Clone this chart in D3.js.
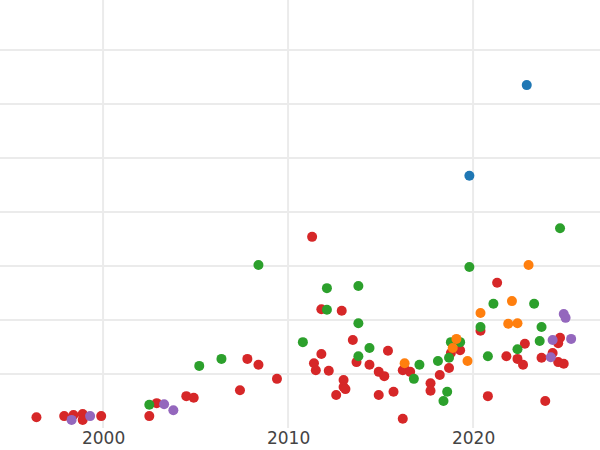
<!DOCTYPE html>
<html>
<head>
<meta charset="utf-8">
<script src="https://cdn.jsdelivr.net/npm/d3@7"></script>
<style>
  body { margin: 0; background: #fff; }
  svg { display: block; font-family: "DejaVu Sans", sans-serif; }
</style>
</head>
<body>
<svg id="chart"></svg>
<script>
// [year, value] per group
const redPts = [[1996.4,2.0],[1997.9,2.2],[1998.4,2.4],[1998.9,2.6],[1998.9,1.5],[1999.9,2.2],[2002.5,2.2],[2002.9,4.6],[2004.5,5.9],[2004.9,5.6],[2007.4,7.0],[2007.8,12.8],[2008.4,11.7],[2009.4,9.1],[2011.3,35.4],[2011.8,22.0],[2012.9,21.7],[2013.5,16.3],[2011.8,13.7],[2011.4,12.0],[2011.5,10.7],[2012.2,10.6],[2012.6,6.1],[2013.0,8.9],[2013.0,7.6],[2013.1,7.2],[2013.7,12.2],[2014.4,11.7],[2014.9,6.1],[2014.9,10.4],[2015.2,9.6],[2015.4,14.3],[2015.7,6.7],[2016.2,1.7],[2016.2,10.7],[2016.3,10.9],[2016.6,10.4],[2017.7,8.3],[2017.7,6.9],[2018.2,9.8],[2018.7,11.1],[2018.8,13.9],[2019.3,14.4],[2020.4,18.0],[2020.8,5.9],[2021.3,26.9],[2021.8,13.3],[2022.4,12.8],[2022.7,11.7],[2022.8,15.6],[2023.7,13.0],[2023.9,5.0],[2024.3,13.9],[2024.7,16.7],[2024.6,15.7],[2024.6,12.2],[2024.9,11.9]];
const greenPts = [[2002.5,4.3],[2005.2,11.5],[2006.4,12.8],[2008.4,30.2],[2010.8,15.9],[2012.1,25.9],[2012.1,21.9],[2013.8,26.3],[2013.8,19.4],[2013.8,13.3],[2014.4,14.8],[2016.8,9.1],[2017.1,11.7],[2018.1,12.4],[2018.4,5.0],[2018.6,6.7],[2018.7,13.0],[2018.8,15.9],[2019.3,15.9],[2019.8,29.8],[2020.4,18.7],[2020.8,13.3],[2021.1,23.0],[2022.4,14.6],[2023.3,23.0],[2023.6,16.1],[2023.7,18.7],[2024.7,37.0]];
const orangePts = [[2016.3,12.0],[2019.1,16.5],[2018.9,14.8],[2019.7,12.4],[2020.4,21.3],[2021.9,19.3],[2022.1,23.5],[2022.4,19.4],[2023.0,30.2]];
const purplePts = [[1998.3,1.5],[1999.3,2.2],[2003.3,4.4],[2003.8,3.3],[2024.3,16.3],[2024.2,13.1],[2024.9,21.1],[2025.0,20.4],[2025.3,16.5]];
const bluePts = [[2022.9,63.5],[2019.8,46.7]];
const xTicks = [2000, 2010, 2020];
const yTicks = [10, 20, 30, 40, 50, 60, 70];

const groups = [
  {pts: redPts, color: '#d62728'},
  {pts: greenPts, color: '#2ca02c'},
  {pts: purplePts, color: '#9467bd'},
  {pts: orangePts, color: '#ff7f0e'},
  {pts: bluePts, color: '#1f77b4'}
];

const width = 600, height = 450;
const svg = d3.select('#chart').attr('width', width).attr('height', height);

const x = d3.scaleLinear().domain([1994.43, 2026.86]).range([0, width]);
const y = d3.scaleLinear().domain([0, 79.26]).range([428, 0]);

// grid
svg.append('g').selectAll('line').data(yTicks).join('line')
  .attr('x1', 0).attr('x2', width)
  .attr('y1', d => y(d)).attr('y2', d => y(d))
  .attr('stroke', '#ebebeb').attr('stroke-width', 2);
svg.append('g').selectAll('line').data(xTicks).join('line')
  .attr('x1', d => x(d)).attr('x2', d => x(d))
  .attr('y1', 0).attr('y2', 428)
  .attr('stroke', '#ebebeb').attr('stroke-width', 2);

// x axis labels
const xAxis = d3.axisBottom(x).tickValues(xTicks).tickFormat(d3.format('d')).tickSize(0).tickPadding(4);
svg.append('g').attr('transform', 'translate(0,428)').call(xAxis)
  .call(g => g.select('.domain').remove())
  .call(g => g.selectAll('text').attr('font-size', 17).attr('fill', '#444').attr('font-family', '"DejaVu Sans", sans-serif'));

// points
groups.forEach(gr => {
  svg.append('g').selectAll('circle').data(gr.pts).join('circle')
    .attr('cx', d => x(d[0])).attr('cy', d => y(d[1]))
    .attr('r', 5).attr('fill', gr.color);
});
</script>
</body>
</html>
